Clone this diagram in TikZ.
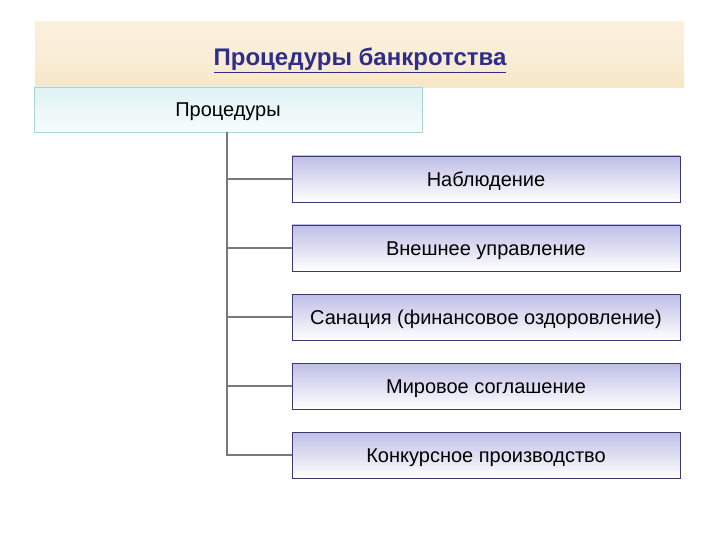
\documentclass[tikz,border=0pt]{standalone}
\usepackage{fontspec}
\setmainfont{Liberation Sans}
\usetikzlibrary{shadows}
\definecolor{titleblue}{HTML}{2E2E8A}
\definecolor{boxborder}{HTML}{3A3A70}
\definecolor{boxtop}{HTML}{BEBEE6}
\definecolor{bannerA}{HTML}{F7E6C6}
\definecolor{bannerB}{HTML}{FBF0DC}
\definecolor{procA}{HTML}{DDF1F3}
\definecolor{procB}{HTML}{F8FDFD}
\definecolor{procborder}{HTML}{A9D3D6}
\definecolor{linegray}{HTML}{7A7A7A}
\tikzset{
  x=1pt, y=-1pt,
  capcenter/.style={text height=14.4pt, text depth=0pt},
  stagebox/.style={draw=boxborder, line width=0.9pt, top color=boxtop, bottom color=white,
    minimum width=388pt, minimum height=46pt, inner sep=0pt, font=\fontsize{20}{24}\selectfont,
    capcenter,
    drop shadow={shadow xshift=1.2pt, shadow yshift=-1.2pt, fill=gray!60, opacity=0.6}},
  branch/.style={draw=linegray, line width=2.4pt},
}
\begin{document}
\begin{tikzpicture}
\useasboundingbox (0,0) rectangle (720,540);
\fill[white] (0,0) rectangle (720,540);
% banner
\node[minimum width=649pt, minimum height=66pt, inner sep=0pt,
  top color=bannerB, bottom color=bannerA, middle color=bannerA!70!white]
  (banner) at (359.5,55) {};
\node[font=\fontsize{24}{28}\selectfont\bfseries, text=titleblue, text height=17pt, text depth=0pt]
  (title) at (360,57)
  {\setlength{\fboxsep}{0pt}\underline{Процедуры банкротства}};
% procedures box
\node[draw=procborder, line width=0.8pt, top color=procA, bottom color=procB,
  minimum width=388pt, minimum height=45pt, inner sep=0pt, font=\fontsize{20}{24}\selectfont,
  capcenter]
  (proc) at (228,109.5) {Процедуры};
% stage boxes
\node[stagebox] (s1) at (486,179) {Наблюдение};
\node[stagebox] (s2) at (486,248) {Внешнее управление};
\node[stagebox] (s3) at (486,317) {Санация (финансовое оздоровление)};
\node[stagebox] (s4) at (486,386) {Мировое соглашение};
\node[stagebox] (s5) at (486,455) {Конкурсное производство};
% connectors
\draw[branch] (227,132) -- (227,455) -- (s5.west);
\foreach \s in {s1,s2,s3,s4}{
  \draw[branch] (227,0 |- \s.west) -- (\s.west);
}
\end{tikzpicture}
\end{document}
